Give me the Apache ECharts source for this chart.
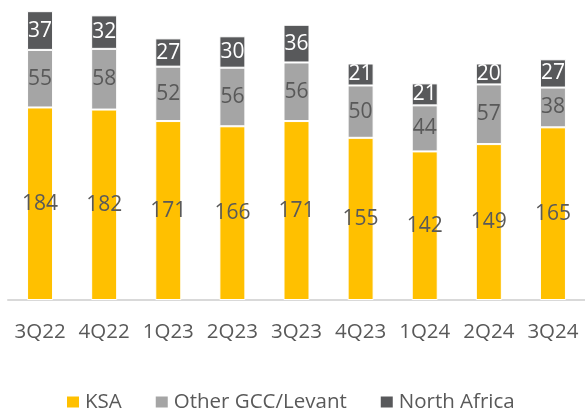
<!DOCTYPE html>
<html><head><meta charset="utf-8">
<script src="https://cdn.jsdelivr.net/npm/echarts@6/dist/echarts.min.js"></script>
<style>html,body{margin:0;padding:0;background:#fff}#c{width:585px;height:412px}</style>
</head><body><div id="c"></div>
<script>
const categories = ['3Q22','4Q22','1Q23','2Q23','3Q23','4Q23','1Q24','2Q24','3Q24'];
const ksa = [184,182,171,166,171,155,142,149,165];
const otherGCC = [55,58,52,56,56,50,44,57,38];
const northAfrica = [37,32,27,30,36,21,21,20,27];
const seriesNames = ['KSA','Other GCC/Levant','North Africa'];

const font = 'Open Sans';
const chart = echarts.init(document.getElementById('c'), null, {renderer:'canvas'});
function mk(name, data, color, labelColor){
  return {
    name, type:'bar', stack:'t', data, barWidth:26,
    itemStyle:{color, borderColor:'#fff', borderWidth:1},
    label:{show:true, position:'inside', color:labelColor, fontFamily:font, fontSize:21},
    emphasis:{disabled:true}
  };
}
chart.setOption({
  animation:false,
  grid:{left:8, width:581, top:7, bottom:112, containLabel:false},
  xAxis:{type:'category', data:categories,
    axisLine:{lineStyle:{color:'#D9D9D9', width:2}},
    axisTick:{show:false},
    axisLabel:{interval:0, hideOverlap:false, color:'#595959', fontFamily:font, fontSize:20.5, margin:22}},
  yAxis:{type:'value', min:0, max:280, show:false, splitLine:{show:false}},
  legend:{top:391, left:65, itemWidth:14, itemHeight:13, itemGap:32, padding:0,
    textStyle:{color:'#595959', fontFamily:font, fontSize:20.5, lineHeight:22},
    icon:'rect', data:seriesNames},
  series:[
    mk(seriesNames[0], ksa, '#FFC000', '#595959'),
    mk(seriesNames[1], otherGCC, '#A5A5A5', '#595959'),
    mk(seriesNames[2], northAfrica, '#58595B', '#FFFFFF')
  ]
});
</script></body></html>
